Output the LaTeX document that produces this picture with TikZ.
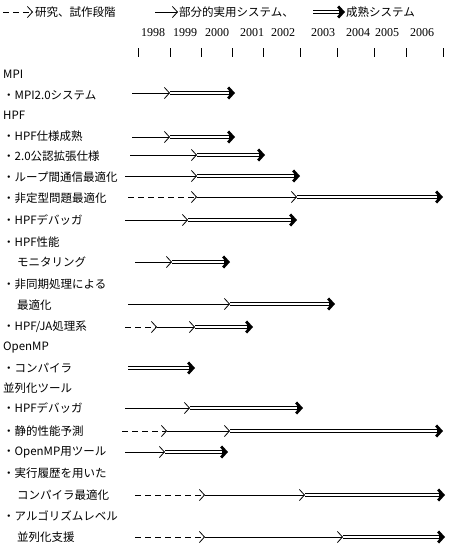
\documentclass[tikz,border=0pt]{standalone}
\usepackage{fontspec}
\setmainfont{Liberation Serif}
\newfontfamily\jpfont{Noto Sans CJK JP}
\usetikzlibrary{arrows.meta}

\begin{document}
\begin{tikzpicture}[
  x=1pt, y=-1pt,
  every node/.style={font=\jpfont\fontsize{11.5}{14}\selectfont, anchor=west, inner sep=0pt},
  year label/.style={font=\rmfamily\fontsize{12}{14}\selectfont, anchor=center},
  trial/.style={line width=0.8pt, dash pattern=on 6pt off 4pt, -{Straight Barb[length=5pt, width=11pt]}},
  partial/.style={line width=0.8pt, -{Straight Barb[length=5pt, width=11pt]}},
  mature/.style={line width=3.4pt, -{Straight Barb[length=5pt, width=11pt, line width=2.8pt]},
    postaction={draw=white, line width=1.5pt, -, shorten >=6pt}}
]
\useasboundingbox (0,0) rectangle (450,550);

% Legend
\coordinate (lg1) at (3,12);   \coordinate (lg2) at (33,12);
\coordinate (lg3) at (155,12); \coordinate (lg4) at (178,12);
\coordinate (lg5) at (313,12); \coordinate (lg6) at (345,12);
\node (ltrial) at (35,12) {研究、試作段階};
\node (lpartial) at (179,12) {部分的実用システム、};
\node (lmature) at (346,12) {成熟システム};
\draw[trial] (lg1) -- (lg2);
\draw[partial] (lg3) -- (lg4);
\draw[mature] (lg5) -- (lg6);

% Years
\foreach \x/\yr in {153/1998, 185/1999, 217/2000, 252/2001, 283/2002, 323/2003, 358/2004, 387/2005, 422/2006}
  \node[year label] (y\yr) at (\x,33) {\yr};
\foreach \x in {138, 170, 201, 232, 263, 300, 337, 374, 406, 443}
  \draw[line width=0.8pt] (\x,48) -- (\x,57);

% Labels
\node (mpi) at (3,74) {MPI};
\node (mpi20) at (3,95) {・MPI2.0システム};
\node (hpf) at (3,115) {HPF};
\node (hpfspec) at (3,136) {・HPF仕様成熟};
\node (hpfext) at (3,156) {・2.0公認拡張仕様};
\node (loopcomm) at (3,177) {・ループ間通信最適化};
\node (irreg) at (3,198) {・非定型問題最適化};
\node (hpfdbg) at (3,220) {・HPFデバッガ};
\node (perf1) at (3,242) {・HPF性能};
\node (perf2) at (17,262) {モニタリング};
\node (async1) at (3,284) {・非同期処理による};
\node (async2) at (17,305) {最適化};
\node (hpfja) at (3,327) {・HPF/JA処理系};
\node (omp) at (3,348) {OpenMP};
\node (ompcc) at (3,368) {・コンパイラ};
\node (tools) at (3,388) {並列化ツール};
\node (tdbg) at (3,408) {・HPFデバッガ};
\node (spred) at (3,431) {・静的性能予測};
\node (omptool) at (3,452) {・OpenMP用ツール};
\node (trace1) at (3,473) {・実行履歴を用いた};
\node (trace2) at (17,495) {コンパイラ最適化};
\node (algo1) at (3,516) {・アルゴリズムレベル};
\node (algo2) at (17,537) {並列化支援};

% Timeline points
\coordinate (mpi20a) at (132,93);  \coordinate (mpi20b) at (170,93);  \coordinate (mpi20c) at (235,93);
\coordinate (specA) at (132,137);  \coordinate (specB) at (170,137);  \coordinate (specC) at (235,137);
\coordinate (extA) at (130,155);   \coordinate (extB) at (197,155);   \coordinate (extC) at (265,155);
\coordinate (loopA) at (125,176);  \coordinate (loopB) at (197,176);  \coordinate (loopC) at (300,176);
\coordinate (irrD) at (128,197);   \coordinate (irrA) at (197,197);   \coordinate (irrB) at (297,197);  \coordinate (irrC) at (443,197);
\coordinate (dbgA) at (125,220);   \coordinate (dbgB) at (188,220);   \coordinate (dbgC) at (297,220);
\coordinate (perfA) at (135,262);  \coordinate (perfB) at (172,262);  \coordinate (perfC) at (230,262);
\coordinate (asyA) at (128,304);   \coordinate (asyB) at (230,304);   \coordinate (asyC) at (335,304);
\coordinate (jaD) at (125,327);    \coordinate (jaA) at (157,327);    \coordinate (jaB) at (195,327);   \coordinate (jaC) at (253,327);
\coordinate (ccB) at (128,368);    \coordinate (ccC) at (195,368);
\coordinate (tdbgA) at (125,408);  \coordinate (tdbgB) at (190,408);  \coordinate (tdbgC) at (303,408);
\coordinate (spD) at (122,431);    \coordinate (spA) at (167,431);    \coordinate (spB) at (230,431);   \coordinate (spC) at (443,431);
\coordinate (otA) at (125,452);    \coordinate (otB) at (165,452);    \coordinate (otC) at (228,452);
\coordinate (trD) at (135,495);    \coordinate (trA) at (205,495);    \coordinate (trB) at (305,495);   \coordinate (trC) at (445,495);
\coordinate (alD) at (135,537);    \coordinate (alA) at (205,537);    \coordinate (alB) at (343,537);   \coordinate (alC) at (445,537);

% Mature stages
\draw[mature] (mpi20b) -- (mpi20c);
\draw[mature] (specB) -- (specC);
\draw[mature] (extB) -- (extC);
\draw[mature] (loopB) -- (loopC);
\draw[mature] (irrB) -- (irrC);
\draw[mature] (dbgB) -- (dbgC);
\draw[mature] (perfB) -- (perfC);
\draw[mature] (asyB) -- (asyC);
\draw[mature] (jaB) -- (jaC);
\draw[mature] (ccB) -- (ccC);
\draw[mature] (tdbgB) -- (tdbgC);
\draw[mature] (spB) -- (spC);
\draw[mature] (otB) -- (otC);
\draw[mature] (trB) -- (trC);
\draw[mature] (alB) -- (alC);

% Partial stages
\draw[partial] (mpi20a) -- (mpi20b);
\draw[partial] (specA) -- (specB);
\draw[partial] (extA) -- (extB);
\draw[partial] (loopA) -- (loopB);
\draw[partial] (irrA) -- (irrB);
\draw[partial] (dbgA) -- (dbgB);
\draw[partial] (perfA) -- (perfB);
\draw[partial] (asyA) -- (asyB);
\draw[partial] (jaA) -- (jaB);
\draw[partial] (tdbgA) -- (tdbgB);
\draw[partial] (spA) -- (spB);
\draw[partial] (otA) -- (otB);
\draw[partial] (trA) -- (trB);
\draw[partial] (alA) -- (alB);

% Research stages
\draw[trial] (irrD) -- (irrA);
\draw[trial] (jaD) -- (jaA);
\draw[trial] (spD) -- (spA);
\draw[trial] (trD) -- (trA);
\draw[trial] (alD) -- (alA);
\end{tikzpicture}
\end{document}
